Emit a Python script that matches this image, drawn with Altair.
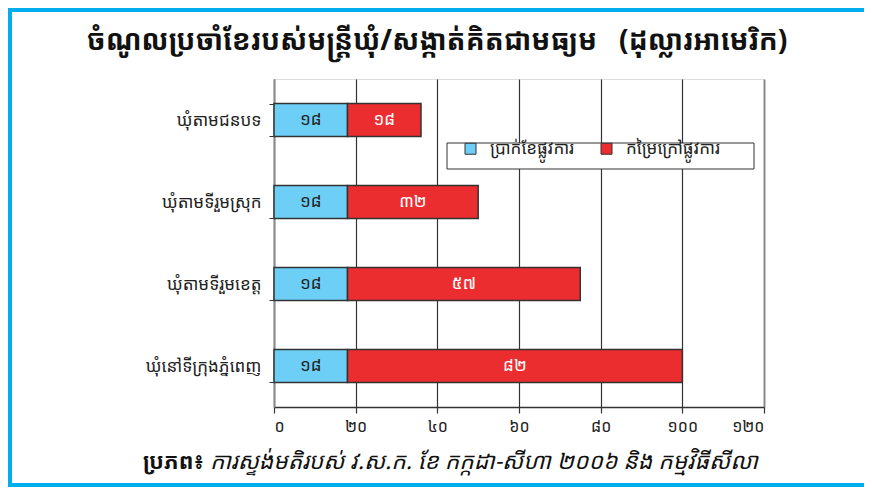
import altair as alt
import pandas as pd

# ---- data ----
categories = ["ឃុំតាមជនបទ", "ឃុំតាមទីរួមស្រុក", "ឃុំតាមទីរួមខេត្ត", "ឃុំនៅទីក្រុងភ្នំពេញ"]
series_names = ["ប្រាក់ខែផ្លូវការ", "កម្រៃក្រៅផ្លូវការ"]
official_salary = [18, 18, 18, 18]
unofficial_income = [18, 32, 57, 82]
x_tick_values = [0, 20, 40, 60, 80, 100, 120]
x_tick_labels = ["០", "២០", "៤០", "៦០", "៨០", "១០០", "១២០"]
title_text = "ចំណូលប្រចាំខែរបស់មន្ត្រីឃុំ/សង្កាត់គិតជាមធ្យម \u00a0\u00a0(ដុល្លារអាមេរិក)"
source_label = "ប្រភព៖"
source_text = "ការស្ទង់មតិរបស់ វ.ស.ក. ខែ កក្កដា-សីហា ២០០៦ និង កម្មវិធីសីលា"

KH_DIGITS = "០១២៣៤៥៦៧៨៩"


def kh(n):
    return "".join(KH_DIGITS[int(c)] for c in str(n))


rows = []
for i, c in enumerate(categories):
    rows.append({"cat": c, "series": series_names[0], "order": 0,
                 "value": official_salary[i], "label": kh(official_salary[i])})
    rows.append({"cat": c, "series": series_names[1], "order": 1,
                 "value": unofficial_income[i], "label": kh(unofficial_income[i])})
df = pd.DataFrame(rows)

FONT = "Noto Sans Khmer"
BLUE = "#6dcff6"
RED = "#ec2d30"
FRAME = "#00aeef"

label_expr = " : ".join(
    f"datum.value == {v} ? '{l}'" for v, l in zip(x_tick_values, x_tick_labels)
) + " : datum.label"

y_enc = alt.Y(
    "cat:N", sort=categories, title=None,
    scale=alt.Scale(paddingInner=0.6, paddingOuter=0.3),
    axis=alt.Axis(domainColor="#8a8a8a", domainWidth=2, tickColor="#333",
                  tickSize=5, tickBand="extent", labelFontSize=17,
                  labelColor="#222", labelPadding=8, labelFont=FONT, grid=False),
)

x_enc = alt.X(
    "value:Q", stack="zero", title=None,
    scale=alt.Scale(domain=[0, 120], nice=False),
    axis=alt.Axis(values=x_tick_values, labelExpr=label_expr,
                  domainColor="#333", domainWidth=1.5, tickColor="#333",
                  tickSize=6, tickWidth=1.2, labelFontSize=16, labelColor="#222",
                  labelPadding=5, labelFont=FONT,
                  grid=True,
                  gridColor={"condition": {"test": "datum.value == 120", "value": "#8a8a8a"},
                             "value": "#333"},
                  gridWidth={"condition": {"test": "datum.value == 120", "value": 2},
                             "value": 1.2}),
)

bars = alt.Chart(df).mark_bar(stroke="#333", strokeWidth=1.5).encode(
    x=x_enc,
    y=y_enc,
    color=alt.Color(
        "series:N",
        scale=alt.Scale(domain=series_names, range=[BLUE, RED]),
        legend=alt.Legend(
            title=None, orient="none", direction="horizontal",
            legendX=188, legendY=61, symbolType="square", symbolSize=121,
            symbolStrokeColor="#333", symbolStrokeWidth=1, symbolOpacity=1,
            labelFontSize=17, labelFont=FONT, labelColor="#222",
            padding=0, columnPadding=23, symbolOffset=0, labelOffset=11,
        ),
    ),
    order=alt.Order("order:Q"),
)

legend_box = alt.Chart(pd.DataFrame({"a": [0]})).mark_rect(
    fill="white", stroke="#333", strokeWidth=1,
).encode(x=alt.value(173), x2=alt.value(480), y=alt.value(64), y2=alt.value(90))

texts = alt.Chart(df).transform_stack(
    stack="value", groupby=["cat"], as_=["x0", "x1"],
    sort=[alt.SortField("order", order="ascending")],
).transform_calculate(
    mid="(datum.x0 + datum.x1) / 2"
).mark_text(fontSize=17, font=FONT, baseline="middle").encode(
    x=alt.X("mid:Q"),
    y=alt.Y("cat:N", sort=categories),
    text="label:N",
    color=alt.Color("series:N", scale=alt.Scale(domain=series_names, range=["#222", "white"]),
                    legend=None),
)

title = alt.Chart(pd.DataFrame({"t": [title_text]})).mark_text(
    fontSize=28, fontWeight="bold", font=FONT, color="#111", align="center",
    baseline="middle",
).encode(x=alt.value(163), y=alt.value(-37), text="t:N")

src1 = alt.Chart(pd.DataFrame({"t": [source_label]})).mark_text(
    fontSize=22, fontWeight="bold", font=FONT, color="#111", align="left",
    baseline="middle",
).encode(x=alt.value(-131), y=alt.value(383), text="t:N")

src2 = alt.Chart(pd.DataFrame({"t": [source_text]})).mark_text(
    fontSize=22.8, fontStyle="italic", font=FONT, color="#111", align="left",
    baseline="middle",
).encode(x=alt.value(-64), y=alt.value(383), text="t:N")

frame = alt.Chart(pd.DataFrame({"a": [0]})).mark_rect(
    fill=None, stroke=FRAME, strokeWidth=4,
).encode(x=alt.value(-264), x2=alt.value(640), y=alt.value(-69), y2=alt.value(406))

chart = alt.layer(bars, legend_box, texts, title, src1, src2, frame).resolve_scale(
    color="independent"
).properties(
    width=490, height=328,
    autosize=alt.AutoSizeParams(type="none"),
    padding={"left": 266, "top": 71, "right": 100, "bottom": 80},
).configure_view(
    stroke="#c4c4c4", strokeWidth=2,
).configure(background="white")

chart.save("out.html", embed_options={"renderer": "svg", "actions": False})
